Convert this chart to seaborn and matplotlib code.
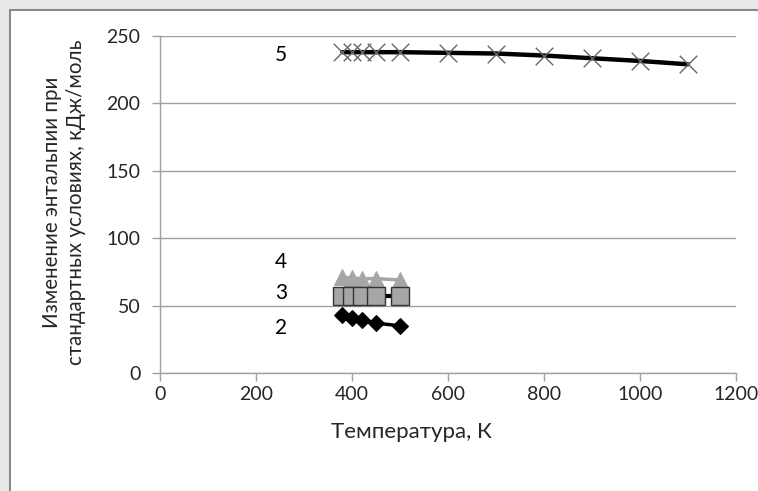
import matplotlib
matplotlib.use("Agg")
import matplotlib.pyplot as plt
import seaborn as sns
import pandas as pd
from matplotlib.patches import Rectangle

# Data
t_low = [380, 400, 420, 450, 500]
s2 = [43, 41, 39, 37, 35]
s3 = [57, 57, 57, 57, 57]
s4 = [71, 70.5, 70, 70, 69]
t5 = [380, 400, 420, 450, 500, 600, 700, 800, 900, 1000, 1100]
s5 = [238, 238, 238, 238, 238, 237.5, 237, 235.5, 233.5, 231.5, 229]
series_labels = ["2", "3", "4", "5"]
label_pos = [(240, 33.5), (240, 59), (240, 82), (240, 236)]
x_ticks = [0, 200, 400, 600, 800, 1000, 1200]
y_ticks = [0, 50, 100, 150, 200, 250]

sns.set_theme(style="white")
plt.rcParams['font.family'] = ['Lato', 'DejaVu Sans']

fig = plt.figure(figsize=(7.58, 4.91), dpi=100)
fig.patch.set_facecolor("white")
fig.add_artist(Rectangle((0, 0), 1, 1, transform=fig.transFigure, facecolor="#e8e8e8",
                         edgecolor="none", zorder=-3))
fig.add_artist(Rectangle((10 / 758, -0.05), 1.0, 1 - 10 / 491 + 0.05, transform=fig.transFigure,
                         facecolor="white", edgecolor="#8a8a8a", linewidth=1.5, zorder=-2))

ax = fig.add_axes([160 / 758, 1 - 373 / 491, (736 - 160) / 758, (373 - 36) / 491])
ax.set_facecolor("none")

d2 = pd.DataFrame({"T": t_low, "H": s2})
d3 = pd.DataFrame({"T": t_low, "H": s3})
d4 = pd.DataFrame({"T": t_low, "H": s4})
d5 = pd.DataFrame({"T": t5, "H": s5})

sns.lineplot(data=d4, x="T", y="H", ax=ax, color="#a6a6a6", linewidth=2.5, marker="^",
             markersize=11, markeredgecolor="#a6a6a6", markerfacecolor="#a6a6a6")
sns.lineplot(data=d3, x="T", y="H", ax=ax, color="black", linewidth=3, marker="s",
             markersize=13.5, markeredgecolor="#333333", markerfacecolor="#a6a6a6",
             markeredgewidth=1)
sns.lineplot(data=d2, x="T", y="H", ax=ax, color="black", linewidth=2.5, marker="D",
             markersize=8, markeredgecolor="black", markerfacecolor="black")
sns.lineplot(data=d5, x="T", y="H", ax=ax, color="black", linewidth=3.2)
ax.scatter(t5, s5, marker="x", s=160, color="#666666", linewidths=1, zorder=5)

for lab, (x, y) in zip(series_labels, label_pos):
    ax.text(x, y, lab, fontsize=15, ha="left", va="center", color="black")

ax.set_xlim(0, 1200)
ax.set_ylim(0, 250)
ax.set_xticks(x_ticks)
ax.set_yticks(y_ticks)
ax.yaxis.grid(True, color="#a0a0a0", linewidth=1)
ax.xaxis.grid(False)
for side in ["top", "right"]:
    ax.spines[side].set_visible(False)
for side in ["left", "bottom"]:
    ax.spines[side].set_color("#a0a0a0")
    ax.spines[side].set_linewidth(1)
ax.tick_params(axis="both", which="both", length=6, width=1, color="#a0a0a0",
               labelsize=14, direction="out", bottom=True, left=True)
ax.tick_params(axis="x", pad=3)
ax.tick_params(axis="y", pad=8)
ax.set_xlabel("Температура, К", fontsize=16)
ax.set_ylabel("Изменение энтальпии при\nстандартных условиях, кДж/моль", fontsize=14.8,
              linespacing=1.25)
ax.xaxis.set_label_coords((411 - 160) / 576, (373 - 432) / 337)
ax.yaxis.set_label_coords((64 - 160) / 576, (373 - 202) / 337)
ax.xaxis.label.set_va("center")
ax.yaxis.label.set_va("center")

fig.savefig("out.png", dpi=100)
